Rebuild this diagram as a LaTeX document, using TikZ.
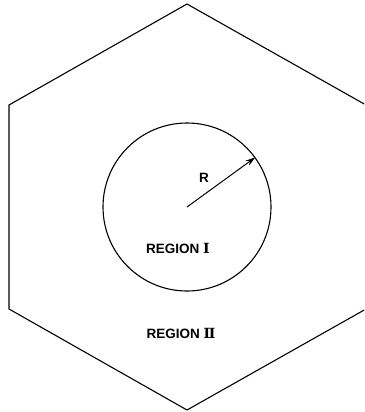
\documentclass[tikz,border=0pt]{standalone}
\usepackage{fontspec}
\setmainfont{Liberation Sans}
\newfontfamily\numfont{DejaVu Serif}
\usetikzlibrary{arrows.meta}
\begin{document}
\begin{tikzpicture}[x=1pt,y=-1pt,
  outline/.style={draw=black,line width=1.1pt,line join=miter},
  lbl/.style={font=\bfseries\fontsize{13.5}{15}\selectfont,inner sep=0pt}]
\useasboundingbox (0,0) rectangle (364,412);
\begin{scope}
\clip (0,0) rectangle (364,412);
\coordinate (t) at (187,4);
\coordinate (ul) at (9,105);
\coordinate (ll) at (9,309);
\coordinate (b) at (187,410);
\coordinate (lr) at (366,309);
\coordinate (ur) at (366,105);
\draw[outline] (t) -- (ul) -- (ll) -- (b) -- (lr) -- (ur) -- cycle;
\end{scope}
\coordinate (c) at (187,207);
\node[outline,circle,minimum size=168pt,inner sep=0pt] (circ) at (c) {};
\draw[line width=1pt,-{Stealth[length=10pt,width=6pt]}] (c) -- (circ.36);
\node[lbl] (r) at (204,178) {R};
\node[lbl] (r1) at (178,248) {REGION {\numfont\fontsize{14}{15}\selectfont Ⅰ}};
\node[lbl] (r2) at (181,333) {REGION {\numfont\fontsize{14}{15}\selectfont Ⅱ}};
\end{tikzpicture}
\end{document}
